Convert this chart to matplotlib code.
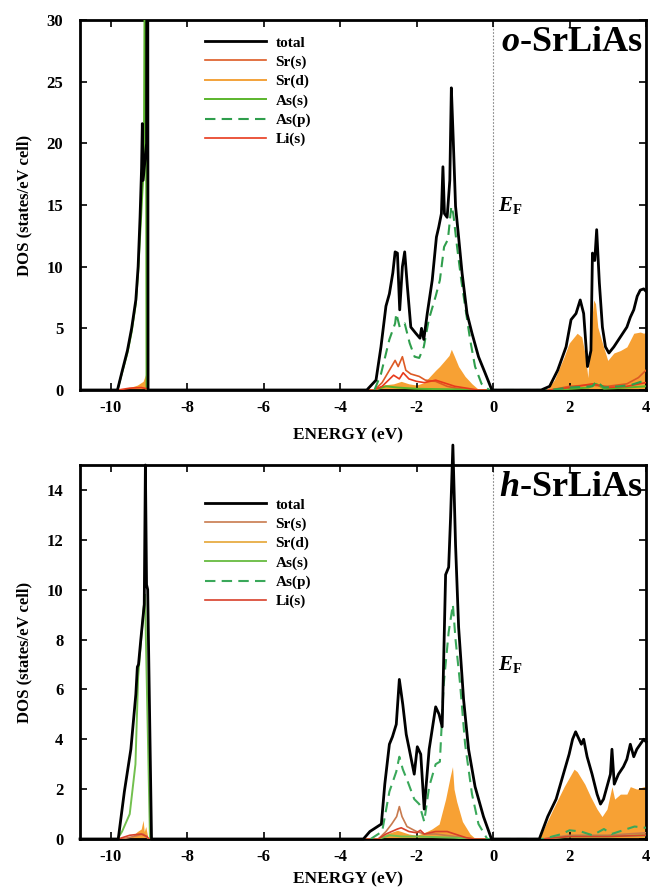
import numpy as np
import matplotlib
matplotlib.use("Agg")
import matplotlib.pyplot as plt

plt.rcParams['font.family'] = ['Liberation Serif', 'DejaVu Serif']
plt.rcParams['font.weight'] = 'bold'
plt.rcParams['mathtext.fontset'] = 'custom'
plt.rcParams['mathtext.rm'] = 'Liberation Serif:bold'
plt.rcParams['mathtext.it'] = 'Liberation Serif:italic:bold'
plt.rcParams['mathtext.bf'] = 'Liberation Serif:bold'

# ---------------- o-SrLiAs (top panel) ----------------
o_total_e = [-10.8, -9.82, -9.70, -9.56, -9.45, -9.34, -9.28, -9.23, -9.19, -9.17, -9.15, -9.06, -9.05, -9.03, -9.02,
             -3.30, -3.06, -2.93, -2.80, -2.71, -2.62, -2.56, -2.50, -2.44, -2.37, -2.31, -2.24,
             -2.15, -2.02, -1.91, -1.87, -1.81, -1.72, -1.59, -1.48, -1.42, -1.35, -1.31, -1.27,
             -1.20, -1.13, -1.09, -1.04, -0.98, -0.90, -0.81, -0.68, -0.55, -0.38, -0.21, -0.03,
             1.26, 1.48, 1.69, 1.91, 2.04, 2.17, 2.28, 2.37, 2.47, 2.56, 2.60, 2.66,
             2.71, 2.78, 2.86, 2.94, 3.03, 3.16, 3.33, 3.50, 3.59, 3.68, 3.77, 3.85, 3.94, 4.0]
o_total = [0, 0, 1.5, 3.2, 5.0, 7.3, 10.0, 14.0, 18.0, 21.6, 17.0, 20.0, 40.0, 40.0, 0,
           0, 0.8, 3.5, 6.8, 7.8, 9.5, 11.2, 11.1, 6.5, 10.0, 11.2, 8.4,
           5.1, 4.6, 4.2, 5.0, 4.1, 6.2, 8.9, 12.4, 13.2, 14.3, 18.1, 14.3,
           14.0, 17.0, 24.5, 20.3, 14.9, 12.4, 9.5, 6.2, 4.6, 2.7, 1.4, 0,
           0, 0.3, 1.6, 3.5, 5.7, 6.2, 7.3, 6.2, 1.9, 3.2, 11.1, 10.5,
           13.0, 8.7, 5.1, 3.5, 3.0, 3.5, 4.3, 5.1, 5.9, 6.5, 7.6, 8.1, 8.2, 8.0]

o_srs_e = [-3.10, -2.90, -2.71, -2.56, -2.48, -2.37, -2.28, -2.15, -1.93, -1.77, -1.50, -1.20, -0.90, -0.60,
           1.50, 2.00, 2.50, 3.00, 3.50, 3.80, 4.00]
o_srs = [0, 0.6, 1.6, 2.4, 1.9, 2.7, 1.6, 1.3, 1.1, 0.8, 0.7, 0.3, 0.1, 0,
         0, 0.3, 0.4, 0.3, 0.5, 1.0, 1.6]

o_srd_e = [-9.75, -9.50, -9.30, -9.15, -9.08, -9.05, -9.03,
           -3.20, -2.90, -2.60, -2.40, -2.20, -2.00, -1.80, -1.50, -1.40, -1.26, -1.15, -1.09, -1.02,
           -0.90, -0.73, -0.55, -0.40, -0.30,
           1.40, 1.60, 1.86, 1.99, 2.20, 2.32, 2.42, 2.48, 2.55, 2.63, 2.68, 2.74, 2.86, 3.00,
           3.16, 3.33, 3.50, 3.68, 3.85, 3.94, 4.00]
o_srd = [0, 0.2, 0.4, 0.7, 1.3, 0.5, 0,
         0, 0.4, 0.5, 0.7, 0.5, 0.4, 0.6, 1.6, 1.9, 2.4, 2.8, 3.3, 2.8,
         1.9, 1.1, 0.5, 0.1, 0,
         0, 0.8, 2.7, 3.8, 4.6, 4.3, 2.7, 1.0, 4.6, 7.3, 7.0, 5.1, 3.8, 2.4,
         3.0, 3.2, 3.5, 4.6, 4.7, 4.6, 4.7]

o_ass_e = [-9.82, -9.70, -9.56, -9.45, -9.34, -9.28, -9.22, -9.17, -9.13, -9.10, -9.08, -9.06,
           -3.10, -2.80, -2.50, -2.00, -1.00, -0.50, 1.60, 2.50, 2.70, 2.90, 3.50, 4.00]
o_ass = [0, 1.4, 3.0, 4.7, 7.0, 9.5, 13.0, 16.0, 18.0, 40.0, 40.0, 0,
         0, 0.3, 0.2, 0.1, 0.05, 0, 0, 0.2, 0.5, 0.1, 0.2, 0.3]

o_asp_e = [-3.10, -2.93, -2.71, -2.56, -2.53, -2.44, -2.31, -2.18, -2.05, -1.93, -1.81, -1.68,
           -1.50, -1.39, -1.28, -1.18, -1.09, -1.04, -0.94, -0.83, -0.73, -0.60, -0.47, -0.30, -0.10,
           1.50, 2.00, 2.60, 2.70, 2.90, 3.30, 3.60, 3.90, 4.00]
o_asp = [0, 1.3, 4.1, 5.4, 6.2, 5.1, 5.4, 3.8, 2.7, 2.6, 3.5, 5.7,
         7.6, 8.9, 11.6, 12.2, 14.9, 14.3, 11.6, 8.9, 6.8, 4.1, 1.9, 0.5, 0,
         0, 0.2, 0.3, 0.7, 0.2, 0.3, 0.4, 0.7, 0.5]

o_lis_e = [-9.80, -9.50, -9.20, -9.05, -9.00,
           -3.10, -2.90, -2.60, -2.45, -2.35, -2.20, -2.00, -1.80, -1.50, -1.30, -1.00, -0.60, -0.40,
           1.50, 2.00, 2.60, 3.00, 3.50, 4.00]
o_lis = [0, 0.15, 0.2, 0.1, 0,
         0, 0.3, 1.2, 0.9, 1.4, 0.9, 0.7, 0.6, 0.8, 0.6, 0.3, 0.1, 0,
         0, 0.2, 0.5, 0.2, 0.3, 0.6]

# ---------------- h-SrLiAs (bottom panel) ----------------
h_total_e = [-10.8, -9.80, -9.64, -9.47, -9.34, -9.30, -9.27, -9.21, -9.12, -9.09, -9.06, -9.03, -8.93,
             -3.39, -3.22, -2.92, -2.83, -2.71, -2.63, -2.53, -2.45, -2.36, -2.27, -2.19, -2.06,
             -1.98, -1.89, -1.80, -1.67, -1.50, -1.41, -1.33, -1.24, -1.16, -1.11, -1.05, -0.98,
             -0.90, -0.77, -0.64, -0.47, -0.25, -0.04,
             1.21, 1.43, 1.65, 1.82, 1.99, 2.08, 2.16, 2.25, 2.31, 2.37, 2.46, 2.59, 2.72, 2.81,
             2.89, 2.98, 3.07, 3.11, 3.17, 3.28, 3.41, 3.50, 3.59, 3.68, 3.76, 3.85, 3.94, 4.00]
h_total = [0, 0, 1.9, 3.6, 5.8, 6.9, 7.0, 8.0, 9.4, 15.0, 10.2, 10.0, 0,
           0, 0.3, 0.6, 2.2, 3.8, 4.1, 4.6, 6.4, 5.4, 4.2, 3.6, 2.6,
           3.7, 3.4, 1.2, 3.6, 5.3, 5.0, 4.5, 10.6, 10.9, 12.9, 15.8, 11.8,
           8.5, 5.6, 3.6, 2.1, 0.9, 0,
           0, 0.9, 1.6, 2.5, 3.4, 4.0, 4.3, 4.0, 3.8, 4.0, 3.3, 2.6, 1.8, 1.4,
           1.6, 2.1, 2.6, 3.6, 2.2, 2.6, 2.9, 3.2, 3.8, 3.3, 3.6, 3.8, 4.0, 3.9]

h_srs_e = [-9.70, -9.40, -9.15, -9.00,
           -3.00, -2.80, -2.65, -2.52, -2.45, -2.38, -2.25, -2.00, -1.80, -1.50, -1.00, -0.50,
           1.30, 2.00, 3.00, 4.00]
h_srs = [0, 0.1, 0.2, 0,
         0, 0.3, 0.6, 0.9, 1.3, 0.9, 0.5, 0.3, 0.2, 0.2, 0.1, 0,
         0, 0.15, 0.15, 0.25]

h_srd_e = [-9.70, -9.45, -9.30, -9.20, -9.15, -9.12, -9.08, -9.02,
           -3.00, -2.80, -2.50, -2.20, -2.00, -1.80, -1.60, -1.41, -1.24, -1.12, -1.06, -1.02,
           -0.95, -0.80, -0.60, -0.45,
           1.20, 1.57, 1.86, 2.12, 2.20, 2.40, 2.55, 2.72, 2.85, 2.98, 3.11, 3.18, 3.33, 3.50,
           3.59, 3.76, 3.94, 4.00]
h_srd = [0, 0.1, 0.3, 0.4, 0.75, 0.3, 0.5, 0,
         0, 0.2, 0.35, 0.2, 0.15, 0.25, 0.4, 0.6, 1.6, 2.5, 2.9, 2.0,
         1.5, 0.7, 0.2, 0,
         0, 1.2, 2.1, 2.8, 2.7, 2.2, 1.7, 1.2, 0.9, 1.2, 2.1, 1.6, 1.8, 1.8,
         2.1, 2.0, 2.1, 2.1]

h_ass_e = [-9.82, -9.70, -9.50, -9.35, -9.28, -9.20, -9.14, -9.10, -9.05, -8.97,
           -3.00, -2.70, -2.40, -2.00, -1.00, -0.50, 1.40, 2.00, 3.00, 4.00]
h_ass = [0, 0.3, 1.0, 3.0, 6.5, 8.0, 9.2, 9.8, 6.0, 0,
         0, 0.15, 0.1, 0.1, 0.05, 0, 0, 0.1, 0.1, 0.15]

h_asp_e = [-3.20, -2.90, -2.71, -2.53, -2.45, -2.36, -2.23, -2.06, -1.93, -1.80, -1.67, -1.50,
           -1.39, -1.29, -1.16, -1.05, -0.98, -0.86, -0.73, -0.55, -0.38, -0.15,
           1.30, 1.80, 2.00, 2.30, 2.60, 2.90, 3.10, 3.40, 3.70, 4.00]
h_asp = [0, 0.3, 1.9, 2.7, 3.3, 2.8, 2.3, 1.6, 1.4, 0.7, 2.1, 3.0,
         3.1, 6.2, 8.3, 9.4, 8.0, 6.2, 3.8, 1.8, 0.6, 0,
         0, 0.2, 0.35, 0.3, 0.15, 0.4, 0.2, 0.35, 0.5, 0.45]

h_lis_e = [-9.80, -9.50, -9.20, -9.05, -9.00,
           -3.00, -2.80, -2.50, -2.40, -2.20, -2.00, -1.90, -1.80, -1.50, -1.20, -1.00, -0.70, -0.50,
           1.30, 2.00, 3.00, 4.00]
h_lis = [0, 0.15, 0.2, 0.1, 0,
         0, 0.2, 0.4, 0.45, 0.3, 0.25, 0.35, 0.2, 0.3, 0.3, 0.2, 0.05, 0,
         0, 0.1, 0.1, 0.15]

x_ticks = [-10, -8, -6, -4, -2, 0, 2, 4]

fig = plt.figure(figsize=(6.51, 8.9), dpi=100)
ax_o = fig.add_axes([80 / 651, 1 - 390 / 890, 566 / 651, 370 / 890])
ax_h = fig.add_axes([80 / 651, 1 - 839 / 890, 566 / 651, 374 / 890])

panels = [
    (ax_o, o_total_e, o_total, o_srs_e, o_srs, o_srd_e, o_srd, o_ass_e, o_ass, o_asp_e, o_asp,
     o_lis_e, o_lis, 30, [0, 5, 10, 15, 20, 25, 30], r"$o$-SrLiAs", 15.0,
     ['#dd5a24', '#f3a23a', '#5bb52c', '#2f9e4c', '#e83a1c'], False, 0.957, 8.5),
    (ax_h, h_total_e, h_total, h_srs_e, h_srs, h_srd_e, h_srd, h_ass_e, h_ass, h_asp_e, h_asp,
     h_lis_e, h_lis, 15, [0, 2, 4, 6, 8, 10, 12, 14], r"$h$-SrLiAs", 7.0,
     ['#c87a4e', '#e9b252', '#72c04e', '#3aa85a', '#d8402a'], True, 0.912, 5.0),
]

for (ax, te, tv, se, sv, de, dv, ae, av, pe, pv, le, lv, ymax, yt, name, efy, cols, noclip,
     legtop, xlpad) in panels:
    ax.fill_between(de, dv, color='#f7a134', lw=0, zorder=1)
    ax.axvline(0, color='#888888', ls=(0, (1.5, 1.5)), lw=0.8, zorder=0)
    ax.plot(se, sv, color=cols[0], lw=1.2, label='Sr(s)', zorder=3)
    ax.plot([], [], color=cols[1], lw=1.4, label='Sr(d)')
    ax.plot(ae, av, color=cols[2], lw=1.4, label='As(s)', zorder=3)
    ax.plot(pe, pv, color=cols[3], lw=1.5, ls=(0, (5, 3)), label='As(p)', zorder=4)
    ax.plot(le, lv, color=cols[4], lw=1.2, label='Li(s)', zorder=3)
    ax.plot(te, tv, color='black', lw=2.0, label='total', zorder=5, clip_on=not noclip)

    ax.set_xlim(-10.8, 4.0)
    ax.set_ylim(0, ymax)
    ax.set_xticks(x_ticks)
    ax.set_xticklabels([str(t) for t in x_ticks])
    ax.set_yticks(yt)
    ax.tick_params(direction='in', top=True, right=True, length=5, width=1.2,
                   labelsize=12, pad=7)
    ax.tick_params(axis='y', pad=12)
    for sp in ax.spines.values():
        sp.set_linewidth(2.0)
    ax.set_xlabel('ENERGY (eV)', fontsize=12.5, fontweight='bold', labelpad=xlpad, x=0.473)
    ax.set_ylabel('DOS (states/eV cell)', fontsize=12, fontweight='bold', labelpad=10)

    h, l = ax.get_legend_handles_labels()
    order = [l.index(k) for k in ['total', 'Sr(s)', 'Sr(d)', 'As(s)', 'As(p)', 'Li(s)']]
    ax.legend([h[i] for i in order], [l[i] for i in order], loc='upper left',
              bbox_to_anchor=(0.221, legtop), frameon=False, fontsize=11,
              handlelength=4.0, handletextpad=0.6, labelspacing=0.36,
              borderpad=0, borderaxespad=0)

    ax.text(0.995, 0.985, name, transform=ax.transAxes, ha='right', va='top',
            fontsize=26, fontweight='bold')
    ax.text(0.12, efy, r"$E_\mathbf{F}$", fontsize=15, ha='left', va='center')

fig.savefig('out.png', dpi=100)
